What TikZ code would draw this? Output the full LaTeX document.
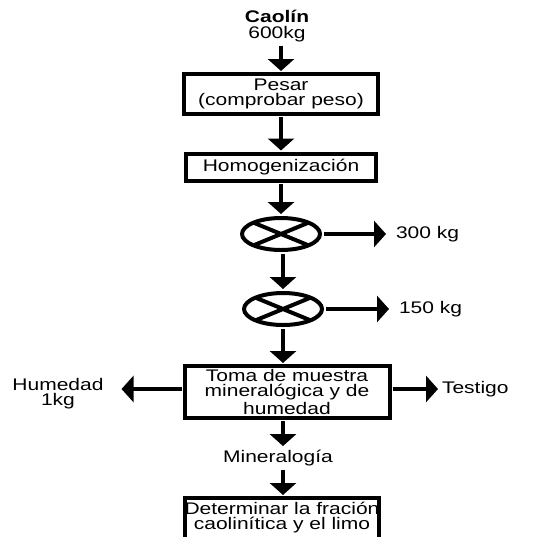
\documentclass[tikz,border=0pt]{standalone}
\usepackage{fontspec}
\setmainfont{Liberation Sans}[FakeStretch=1.25]
\usetikzlibrary{arrows.meta,shapes.geometric}
\tikzset{
  caja/.style={draw, line width=2pt, align=center, inner sep=0pt, outer sep=1.5pt,
    font=\fontsize{8.4}{7.6}\selectfont},
  texto/.style={align=center, inner sep=0pt, outer sep=2pt,
    font=\fontsize{8.4}{7.6}\selectfont},
  divisor/.style={draw, ellipse, line width=2pt, minimum width=39pt,
    minimum height=16pt, inner sep=0pt, outer sep=2pt},
  flecha/.style={line width=2pt, -{Triangle[width=13pt,length=6pt]}},
}
\begin{document}
\begin{tikzpicture}[x=0.5pt,y=-0.5pt]
\useasboundingbox (0,0) rectangle (545,536);
% edit here for the boxes
\node[texto] (caolin) at (277,26) {\textbf{Caolín}\\600kg};
\node[caja, minimum width=97pt, minimum height=20pt] (pesar) at (281,94) {Pesar\\(comprobar peso)};
\node[caja, minimum width=95pt, minimum height=13.5pt] (homog) at (281,167) {Homogenización};
\node[divisor] (div1) at (281,234) {};
\node[divisor] (div2) at (283,309) {};
\node[caja, minimum width=102.5pt, minimum height=26pt] (toma) at (287,392) {Toma de muestra\\mineralógica y de\\humedad};
\node[texto] (miner) at (278,458) {Mineralogía};
\node[caja, minimum width=93.5pt, inner ysep=2pt, text depth=5pt, anchor=north] (det) at (282,495) {Determinar la fración\\caolinítica y el limo};
% edit here for the side outputs
\node[texto, anchor=west] (kg300) at (392,234) {300 kg};
\node[texto, anchor=west] (kg150) at (395,309) {150 kg};
\node[texto] (humedad) at (58,394) {Humedad\\1kg};
\node[texto, anchor=west] (testigo) at (438,389) {Testigo};
% crosses in the dividers
\foreach \d in {div1,div2}
  \draw[line width=2pt] (\d.center) +(-13.8pt,5.7pt) -- +(13.8pt,-5.7pt)
                        (\d.center) +(13.8pt,5.7pt) -- +(-13.8pt,-5.7pt);
% edit here for the arrows down
\draw[flecha] (caolin.south -| homog) -- (pesar);
\draw[flecha] (pesar) -- (homog);
\draw[flecha] (homog) -- (div1);
\draw[flecha] (div1.south -| div2) -- (div2);
\draw[flecha] (div2) -- (div2 |- toma.north);
\draw[flecha] (toma.south -| div2) -- (miner.north -| div2);
\draw[flecha] (miner.south -| div2) -- (det.north -| div2);
% edit here for the arrows sideways
\draw[flecha, shorten >=3pt] (div1) -- (kg300);
\draw[flecha, shorten >=3pt] (div2) -- (kg150);
\draw[flecha, shorten >=7pt] (toma.west |- testigo) -- (humedad.east |- testigo);
\draw[flecha] (toma.east |- testigo) -- (testigo);
\end{tikzpicture}
\end{document}
